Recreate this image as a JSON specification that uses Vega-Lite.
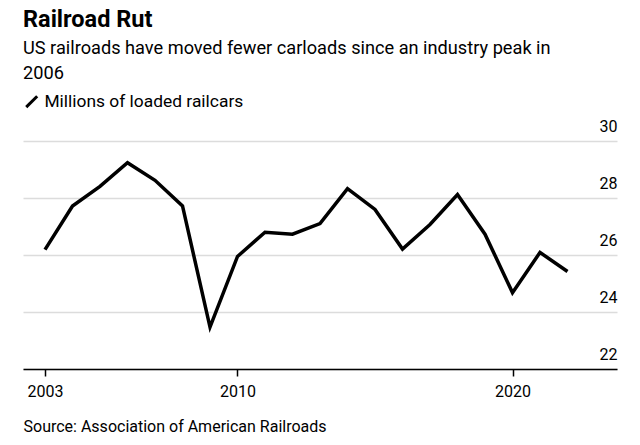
{
  "$schema": "https://vega.github.io/schema/vega-lite/v6.json",
  "width": 594,
  "height": 228,
  "autosize": "none",
  "padding": {"left": 23, "top": 141, "right": 23, "bottom": 76},
  "background": "white",
  "title": {
    "text": "Railroad Rut",
    "subtitle": ["US railroads have moved fewer carloads since an industry peak in", "2006"],
    "anchor": "start",
    "frame": "group",
    "font": "Roboto",
    "fontSize": 23.5,
    "fontWeight": "bold",
    "color": "#000",
    "subtitleFont": "Roboto",
    "subtitleFontSize": 18.2,
    "subtitleColor": "#000",
    "subtitleLineHeight": 25,
    "subtitlePadding": 8,
    "offset": 11
  },
  "data": {
    "values": [
      {"year": 2003, "value": 26.19, "series": "Millions of loaded railcars"},
      {"year": 2004, "value": 27.72, "series": "Millions of loaded railcars"},
      {"year": 2005, "value": 28.41, "series": "Millions of loaded railcars"},
      {"year": 2006, "value": 29.24, "series": "Millions of loaded railcars"},
      {"year": 2007, "value": 28.62, "series": "Millions of loaded railcars"},
      {"year": 2008, "value": 27.72, "series": "Millions of loaded railcars"},
      {"year": 2009, "value": 23.47, "series": "Millions of loaded railcars"},
      {"year": 2010, "value": 25.95, "series": "Millions of loaded railcars"},
      {"year": 2011, "value": 26.80, "series": "Millions of loaded railcars"},
      {"year": 2012, "value": 26.73, "series": "Millions of loaded railcars"},
      {"year": 2013, "value": 27.10, "series": "Millions of loaded railcars"},
      {"year": 2014, "value": 28.33, "series": "Millions of loaded railcars"},
      {"year": 2015, "value": 27.60, "series": "Millions of loaded railcars"},
      {"year": 2016, "value": 26.21, "series": "Millions of loaded railcars"},
      {"year": 2017, "value": 27.07, "series": "Millions of loaded railcars"},
      {"year": 2018, "value": 28.12, "series": "Millions of loaded railcars"},
      {"year": 2019, "value": 26.73, "series": "Millions of loaded railcars"},
      {"year": 2020, "value": 24.68, "series": "Millions of loaded railcars"},
      {"year": 2021, "value": 26.09, "series": "Millions of loaded railcars"},
      {"year": 2022, "value": 25.42, "series": "Millions of loaded railcars"}
    ]
  },
  "mark": {"type": "line", "strokeWidth": 3.5},
  "encoding": {
    "x": {
      "field": "year",
      "type": "quantitative",
      "scale": {"domain": [2002.2, 2023.8], "nice": false, "zero": false},
      "axis": {
        "values": [2003, 2010, 2020],
        "format": "d",
        "grid": false,
        "domainColor": "#000",
        "domainWidth": 1.5,
        "tickColor": "#000",
        "tickWidth": 1.5,
        "tickSize": 7,
        "labelPadding": 7,
        "labelFont": "Roboto",
        "labelFontSize": 16,
        "labelColor": "#000",
        "title": "Source: Association of American Railroads",
        "titleAnchor": "start",
        "titleAlign": "left",
        "titleFont": "Roboto",
        "titleFontSize": 16,
        "titleFontWeight": "normal",
        "titleColor": "#000",
        "titlePadding": 19
      }
    },
    "y": {
      "field": "value",
      "type": "quantitative",
      "scale": {"domain": [22, 30], "nice": false, "zero": false},
      "axis": {
        "orient": "right",
        "values": [22, 24, 26, 28, 30],
        "grid": true,
        "gridColor": "#dcdcdc",
        "gridWidth": 1.5,
        "domain": false,
        "ticks": false,
        "labelAlign": "right",
        "labelBaseline": "alphabetic",
        "labelOffset": -10,
        "labelPadding": 0,
        "labelFont": "Roboto",
        "labelFontSize": 16,
        "labelColor": "#000",
        "title": null
      }
    },
    "color": {
      "field": "series",
      "type": "nominal",
      "scale": {"range": ["#000"]},
      "legend": {
        "orient": "none",
        "legendX": 0,
        "legendY": -48,
        "title": null,
        "symbolType": "M-1,1L1,-1",
        "symbolStrokeWidth": 3,
        "symbolSize": 120,
        "labelFont": "Roboto",
        "labelFontSize": 17.4,
        "labelLimit": 0,
        "labelColor": "#000"
      }
    }
  },
  "config": {"view": {"stroke": null}}
}
